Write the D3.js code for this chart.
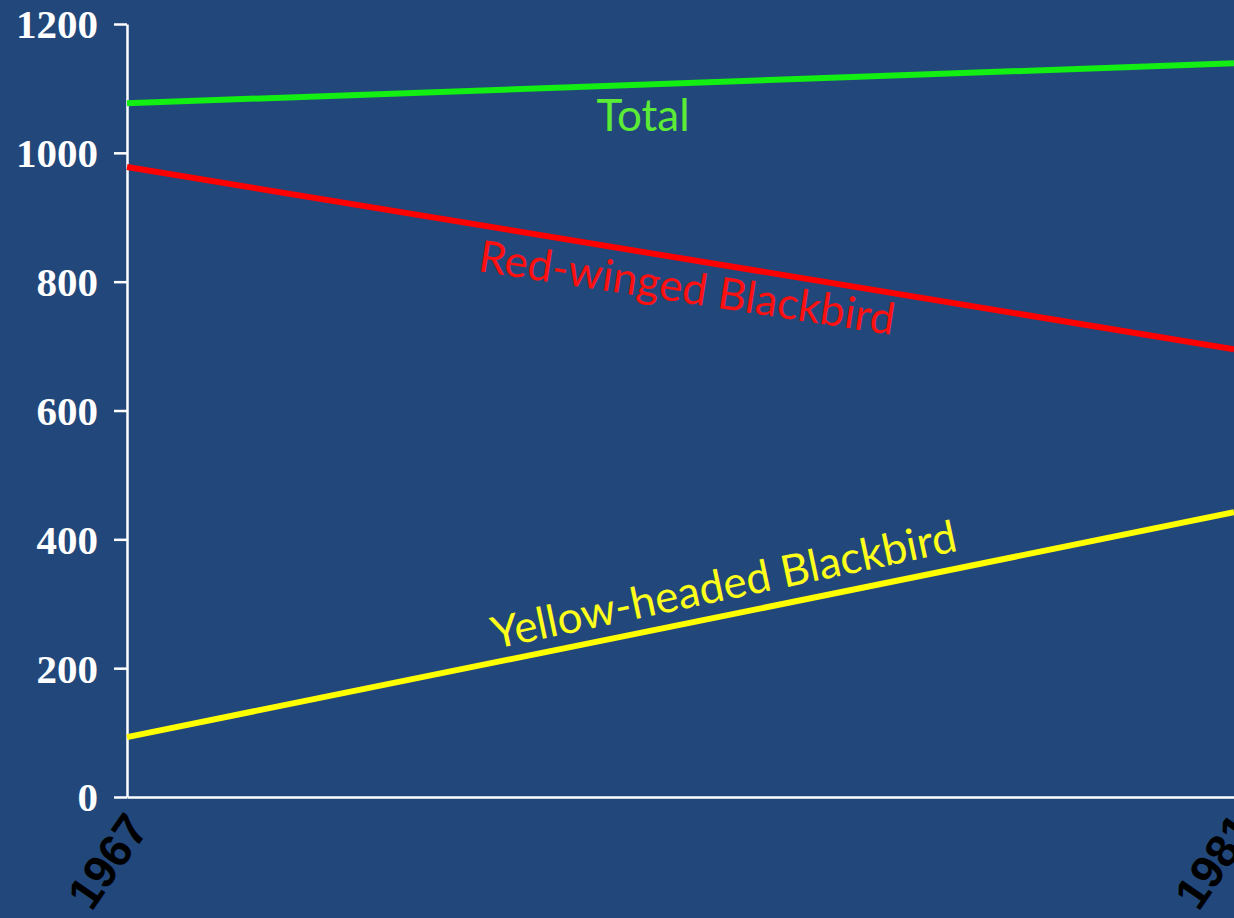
<!DOCTYPE html>
<html>
<head>
<meta charset="utf-8">
<script src="https://cdn.jsdelivr.net/npm/d3@7"></script>
<style>
  html, body { margin: 0; padding: 0; background: #22477a; }
  svg { display: block; }
</style>
</head>
<body>
<svg id="chart" width="1234" height="918"></svg>
<script>
// ---- data ----
const years = [1967, 1981];
const totalValues = [1077, 1139];
const redWingedValues = [978, 695];
const yellowHeadedValues = [93, 442];
const seriesNames = ["Total", "Red-winged Blackbird", "Yellow-headed Blackbird"];
const yTicks = [0, 200, 400, 600, 800, 1000, 1200];
const xTickLabels = ["1967", "1981"];

// ---- layout ----
const W = 1234, H = 918;
const svg = d3.select("#chart");
svg.append("rect").attr("width", W).attr("height", H).attr("fill", "#22477a");

const x = d3.scaleLinear().domain([1967, 1981]).range([127, 1234]);
const y = d3.scaleLinear().domain([0, 1200]).range([797, 24]);

const series = [
  { name: seriesNames[0], values: totalValues, line: "#13ee13", text: "#5cec36" },
  { name: seriesNames[1], values: redWingedValues, line: "#ff0000", text: "#ff1010" },
  { name: seriesNames[2], values: yellowHeadedValues, line: "#ffff00", text: "#ffff1a" }
];

// y axis
const yAxis = d3.axisLeft(y).tickValues(yTicks).tickFormat(d3.format("d"))
  .tickSize(13).tickSizeOuter(0).tickPadding(16);
const gy = svg.append("g").attr("transform", "translate(127,0)").call(yAxis);
gy.select(".domain").attr("stroke", "#ffffff").attr("stroke-width", 2.5);
gy.selectAll(".tick line").attr("stroke", "#ffffff").attr("stroke-width", 2.5);
gy.selectAll(".tick text")
  .attr("fill", "#ffffff")
  .attr("font-family", "'Liberation Serif', 'Times New Roman', serif")
  .attr("font-weight", "bold")
  .attr("font-size", 41)
  .attr("dy", "0.34em");

// x axis
const xAxis = d3.axisBottom(x).tickValues(years).tickFormat((d, i) => xTickLabels[i])
  .tickSize(0).tickSizeOuter(0);
const gx = svg.append("g").attr("transform", "translate(0," + y(0) + ")").call(xAxis);
gx.select(".domain").attr("stroke", "#ffffff").attr("stroke-width", 2.5);
gx.selectAll(".tick text")
  .attr("fill", "#000000")
  .attr("font-family", "'Liberation Sans', Arial, sans-serif")
  .attr("font-weight", "bold")
  .attr("font-size", 46)
  .attr("text-anchor", "middle")
  .attr("transform", "rotate(-55)")
  .attr("x", -64)
  .attr("y", 20)
  .attr("dy", "0.36em");

// lines
const line = d3.line().x((d, i) => x(years[i])).y(d => y(d));
series.forEach(s => {
  svg.append("path")
    .datum(s.values)
    .attr("fill", "none")
    .attr("stroke", s.line)
    .attr("stroke-width", 6)
    .attr("d", line);
});

// line labels
function slopeAngle(vals) {
  const dx = x(years[1]) - x(years[0]);
  const dy = y(vals[1]) - y(vals[0]);
  return Math.atan2(dy, dx) * 180 / Math.PI;
}
const labelFont = "Lato, 'Open Sans', sans-serif";

svg.append("text")
  .attr("x", 643).attr("y", 131)
  .attr("text-anchor", "middle")
  .attr("fill", series[0].text)
  .attr("font-family", labelFont)
  .attr("font-size", 44)
  .text(series[0].name);

svg.append("text")
  .attr("transform", "translate(477,271) rotate(" + (slopeAngle(redWingedValues) - 0.6) + ")")
  .attr("fill", series[1].text)
  .attr("font-family", labelFont)
  .attr("font-size", 44)
  .text(series[1].name);

svg.append("text")
  .attr("transform", "translate(495,649) rotate(" + (slopeAngle(yellowHeadedValues) - 0.5) + ")")
  .attr("fill", series[2].text)
  .attr("font-family", labelFont)
  .attr("font-size", 44)
  .text(series[2].name);
</script>
</body>
</html>
